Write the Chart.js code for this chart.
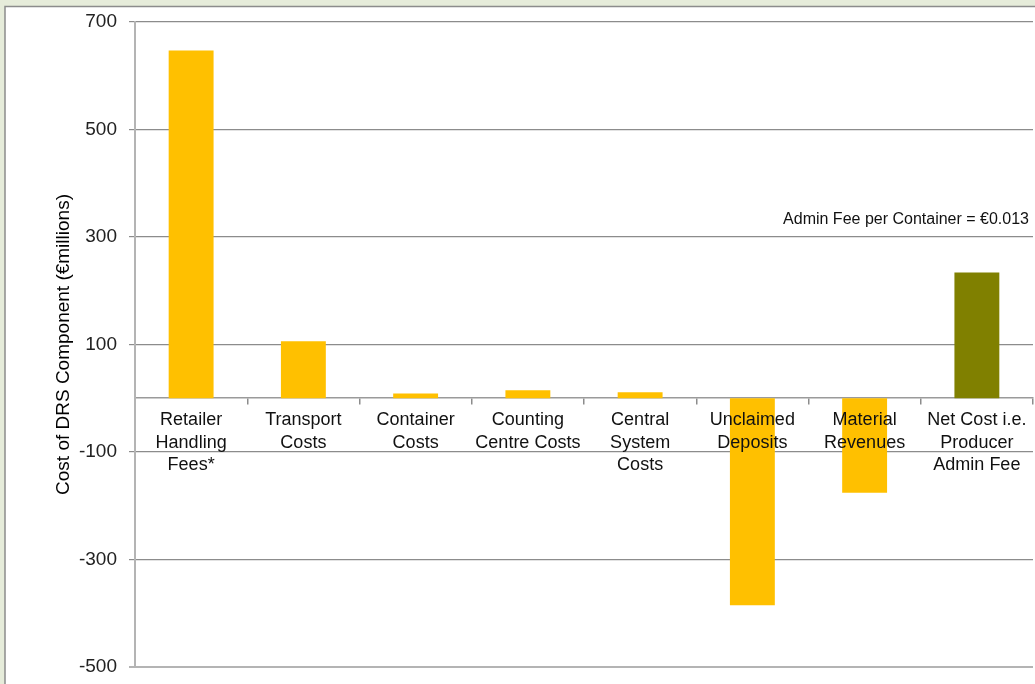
<!DOCTYPE html>
<html>
<head>
<meta charset="utf-8">
<script src="https://cdn.jsdelivr.net/npm/chart.js@4/dist/chart.umd.min.js"></script>
<style>
  html, body { margin: 0; padding: 0; background: #e6ecda; }
  #wrap { position: relative; width: 1035px; height: 684px; }
</style>
</head>
<body>
<div id="wrap"><canvas id="chart"></canvas></div>
<script>
// ── Data ──────────────────────────────────────────────────────────────────────
const categories = [
  ['Retailer', 'Handling', 'Fees*'],
  ['Transport', 'Costs'],
  ['Container', 'Costs'],
  ['Counting', 'Centre Costs'],
  ['Central', 'System', 'Costs'],
  ['Unclaimed', 'Deposits'],
  ['Material', 'Revenues'],
  ['Net Cost i.e.', 'Producer', 'Admin Fee']
]
const costValues = [647, 106, 9, 15, 11, -385, -176, 234]
const barColors = ['#FFC000', '#FFC000', '#FFC000', '#FFC000', '#FFC000', '#FFC000', '#FFC000', '#808000']
const yTicks = { min: -500, max: 700, step: 200 }
const annotationText = 'Admin Fee per Container = €0.013'
const annotationValue = 300

// ── Plugins ───────────────────────────────────────────────────────────────────
const framePlugin = {
  id: 'frame',
  beforeDraw(chart) {
    const { ctx, width, height } = chart
    ctx.save()
    ctx.fillStyle = '#e6ecda'
    ctx.fillRect(0, 0, width, height)
    ctx.fillStyle = '#ffffff'
    ctx.fillRect(5, 6, width - 5, height - 6)
    ctx.strokeStyle = '#8c8c8c'
    ctx.lineWidth = 1.5
    ctx.beginPath()
    ctx.moveTo(5, height)
    ctx.lineTo(5, 6.5)
    ctx.lineTo(width, 6.5)
    ctx.stroke()
    ctx.restore()
  }
}

const notePlugin = {
  id: 'note',
  afterDraw(chart) {
    const { ctx, chartArea, scales } = chart
    const y = scales.y.getPixelForValue(annotationValue)
    ctx.save()
    ctx.font = '16px "Liberation Sans", Arial, sans-serif'
    ctx.fillStyle = '#111'
    ctx.textAlign = 'right'
    ctx.textBaseline = 'alphabetic'
    ctx.fillText(annotationText, chartArea.right - 4, y - 13)
    ctx.restore()
  }
}

// ── Chart ─────────────────────────────────────────────────────────────────────
new Chart(document.getElementById('chart'), {
  type: 'bar',
  data: {
    labels: categories,
    datasets: [{
      data: costValues,
      backgroundColor: barColors,
      borderWidth: 0,
      barPercentage: 0.4,
      categoryPercentage: 1
    }]
  },
  options: {
    responsive: true,
    maintainAspectRatio: false,
    animation: false,
    layout: { padding: { top: 22, bottom: 17, right: 2, left: 0 } },
    plugins: {
      legend: { display: false },
      tooltip: { enabled: false }
    },
    scales: {
      x: {
        position: { y: 0 },
        offset: true,
        afterFit: scale => { scale.paddingTop = 0; scale.paddingBottom = 0 },
        grid: {
          offset: true,
          drawOnChartArea: false,
          drawTicks: true,
          tickLength: 6,
          color: '#8c8c8c',
          lineWidth: 1.5
        },
        border: { display: true, color: '#9a9a9a', width: 1.5 },
        ticks: {
          z: 1,
          autoSkip: false,
          maxRotation: 0,
          padding: 5,
          color: '#111',
          font: { family: '"Liberation Sans", Arial, sans-serif', size: 18, lineHeight: 1.25 }
        }
      },
      y: {
        min: yTicks.min,
        max: yTicks.max,
        afterFit: scale => {
          scale.width = 135
          scale.paddingTop = 0
          scale.paddingBottom = 0
        },
        grid: {
          color: ctx => (ctx.tick && ctx.tick.value === yTicks.min ? '#b4b4b4' : '#8c8c8c'),
          lineWidth: ctx => (ctx.tick && ctx.tick.value === yTicks.min ? 2 : 1.2),
          tickLength: 6,
          drawTicks: true
        },
        border: { display: true, color: '#b4b4b4', width: 2 },
        ticks: {
          stepSize: yTicks.step,
          padding: 12,
          color: '#222',
          font: { family: '"Liberation Sans", Arial, sans-serif', size: 19 }
        },
        title: {
          display: true,
          text: 'Cost of DRS Component (€millions)',
          color: '#000',
          padding: { top: 52, bottom: 0 },
          font: { family: '"Liberation Sans", Arial, sans-serif', size: 19, lineHeight: 1.2 }
        }
      }
    }
  },
  plugins: [framePlugin, notePlugin]
})
</script>
</body>
</html>
